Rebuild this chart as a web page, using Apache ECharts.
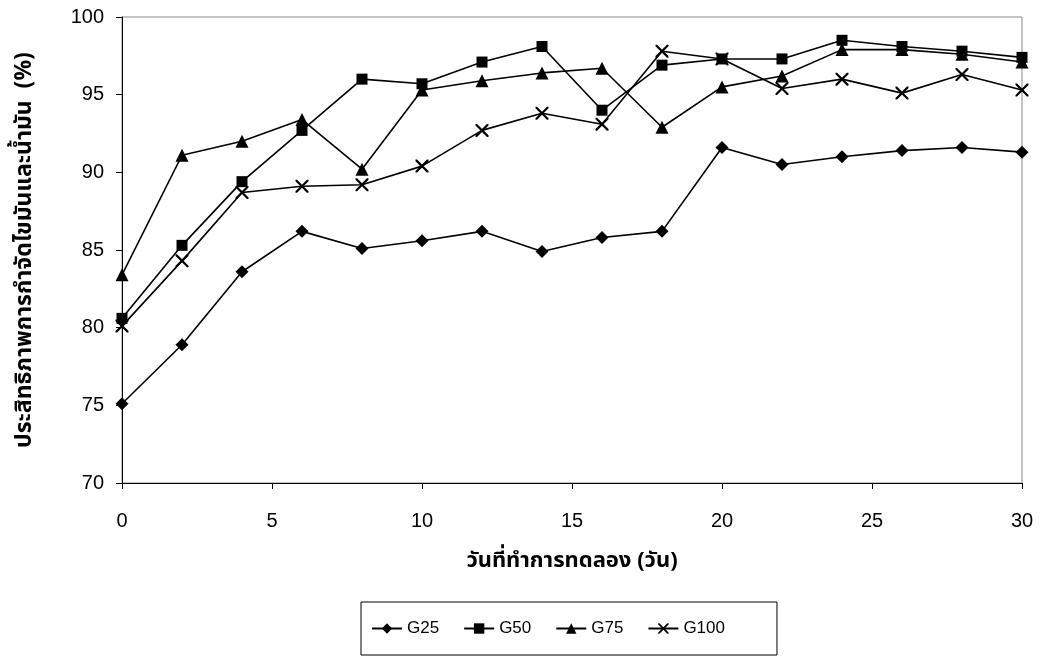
<!DOCTYPE html>
<html>
<head>
<meta charset="utf-8">
<script src="https://cdn.jsdelivr.net/npm/echarts@6/dist/echarts.min.js"></script>
<style>
  html, body { margin: 0; padding: 0; background: #fff; }
  #chart { width: 1043px; height: 657px; }
</style>
</head>
<body>
<div id="chart"></div>
<script>
// Experiment days
const days = [0, 2, 4, 6, 8, 10, 12, 14, 16, 18, 20, 22, 24, 26, 28, 30];

// Oil and grease removal efficiency (%) per treatment
const g25  = [75.1, 78.9, 83.6, 86.2, 85.1, 85.6, 86.2, 84.9, 85.8, 86.2, 91.6, 90.5, 91.0, 91.4, 91.6, 91.3];
const g50  = [80.6, 85.3, 89.4, 92.7, 96.0, 95.7, 97.1, 98.1, 94.0, 96.9, 97.3, 97.3, 98.5, 98.1, 97.8, 97.4];
const g75  = [83.4, 91.1, 92.0, 93.4, 90.2, 95.3, 95.9, 96.4, 96.7, 92.9, 95.5, 96.2, 97.9, 97.9, 97.6, 97.1];
const g100 = [80.1, 84.3, 88.7, 89.1, 89.2, 90.4, 92.7, 93.8, 93.1, 97.8, 97.3, 95.4, 96.0, 95.1, 96.3, 95.3];

const seriesNames = ['G25', 'G50', 'G75', 'G100'];
const xTitle = 'วันที่ทำการทดลอง (วัน)';
const yTitle = 'ประสิทธิภาพการกำจัดไขมันและน้ำมัน  (%)';

const numFont = '"Liberation Sans", Arial, sans-serif';
const thaiFont = '"Noto Sans Thai", "Tahoma", "Liberation Sans", sans-serif';

// Thin "x" mark built as a filled outline
const crossPath = 'path://M0,0L1.2,0L10,8.8L10,10L8.8,10L0,1.2Z M8.8,0L10,0L10,1.2L1.2,10L0,10L0,8.8Z';

function pairs(ys) { return days.map((d, i) => [d, ys[i]]); }

function lineSeries(name, data, symbol, size) {
  return {
    name: name,
    type: 'line',
    data: pairs(data),
    symbol: symbol,
    symbolSize: size,
    showAllSymbol: true,
    lineStyle: { color: '#000', width: 1.6 },
    itemStyle: { color: '#000', borderColor: '#000', borderWidth: 0 },
    emphasis: { disabled: true },
    animation: false,
    z: 3
  };
}

const chart = echarts.init(document.getElementById('chart'), null, { renderer: 'canvas' });

chart.setOption({
  animation: false,
  backgroundColor: '#fff',
  grid: {
    left: 122, right: 21, top: 17, bottom: 174,
    show: true, borderColor: '#8a8a8a', borderWidth: 1, backgroundColor: 'transparent'
  },
  xAxis: {
    type: 'value', min: 0, max: 30, interval: 5,
    name: xTitle, nameLocation: 'middle', nameGap: 69,
    nameTextStyle: { fontFamily: thaiFont, fontSize: 22, fontWeight: 'bold', color: '#000' },
    axisLine: { show: true, onZero: false, lineStyle: { color: '#000', width: 1 } },
    axisTick: { show: true, inside: false, length: 6, lineStyle: { color: '#000' } },
    axisLabel: { margin: 28, fontFamily: numFont, fontSize: 20, color: '#000' },
    splitLine: { show: false }
  },
  yAxis: {
    type: 'value', min: 70, max: 100, interval: 5,
    name: yTitle, nameLocation: 'middle', nameRotate: 90, nameGap: 84,
    nameTextStyle: { fontFamily: thaiFont, fontSize: 23, fontWeight: 'bold', color: '#000' },
    axisLine: { show: true, lineStyle: { color: '#000', width: 1 } },
    axisTick: { show: true, inside: false, length: 6, lineStyle: { color: '#000' } },
    axisLabel: { margin: 18, fontFamily: numFont, fontSize: 20, color: '#000' },
    splitLine: { show: false }
  },
  legend: {
    data: seriesNames,
    left: 361, top: 602,
    orient: 'horizontal',
    itemWidth: 30, itemHeight: 13, itemGap: 24,
    padding: [18, 52, 18, 10],
    borderColor: '#000', borderWidth: 1,
    textStyle: { fontFamily: numFont, fontSize: 17, color: '#000' },
    selectedMode: false
  },
  series: [
    lineSeries('G25', g25, 'diamond', 13),
    lineSeries('G50', g50, 'rect', 11),
    lineSeries('G75', g75, 'triangle', 13),
    lineSeries('G100', g100, crossPath, 13)
  ]
});
</script>
</body>
</html>
